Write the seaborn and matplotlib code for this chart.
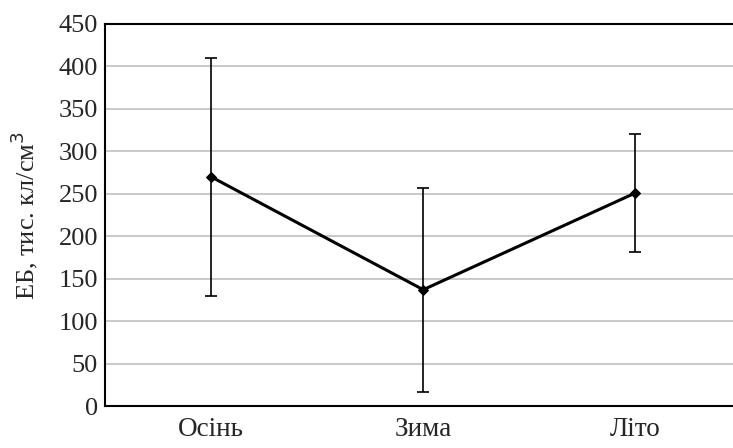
import numpy as np
import pandas as pd
import matplotlib
matplotlib.use("Agg")
import matplotlib.pyplot as plt
import seaborn as sns

seasons = ["Осінь", "Зима", "Літо"]
means = [270, 137, 251]
errors = [140, 120, 70]
y_ticks = [0, 50, 100, 150, 200, 250, 300, 350, 400, 450]

sns.set_style("white")
plt.rcParams["font.family"] = ["Liberation Serif", "DejaVu Serif"]

df = pd.DataFrame(dict(season=seasons, value=means))

fig = plt.figure(figsize=(7.33, 4.48), dpi=100)
ax = fig.add_axes([105/733, 42/448, 1 - 105/733, 382/448])

xpos = np.arange(len(seasons))
ax.errorbar(xpos, means, yerr=errors, fmt="none", ecolor="black",
            elinewidth=1.2, capsize=4, capthick=1.2, zorder=3)
sns.lineplot(x=xpos, y="value", data=df, color="black", linewidth=2.2,
             marker="D", markersize=5, markeredgecolor="black", ax=ax, zorder=4)

ax.set_ylim(0, 450)
ax.set_xlim(-0.5, 2.46)
ax.set_yticks(y_ticks)
ax.set_xticks(xpos)
ax.set_xticklabels(seasons, fontsize=19.5)
ax.set_xticks([0.5, 1.5], minor=True)
ax.tick_params(axis="x", which="major", length=0, pad=8)
ax.tick_params(axis="x", which="minor", length=5, width=1, direction="out", color="black")
ax.tick_params(axis="y", length=0, labelsize=19, pad=5)
ax.yaxis.grid(True, color="#c0c0c0", linewidth=1.2)
ax.set_axisbelow(True)

for s in ["left", "bottom", "top"]:
    ax.spines[s].set_color("black")
    ax.spines[s].set_linewidth(1.5)
ax.spines["right"].set_visible(False)

ax.set_xlabel("")
ax.set_ylabel("ЕБ, тис. кл/см$^3$", fontsize=19, labelpad=13)

plt.savefig("out.png", dpi=100)
